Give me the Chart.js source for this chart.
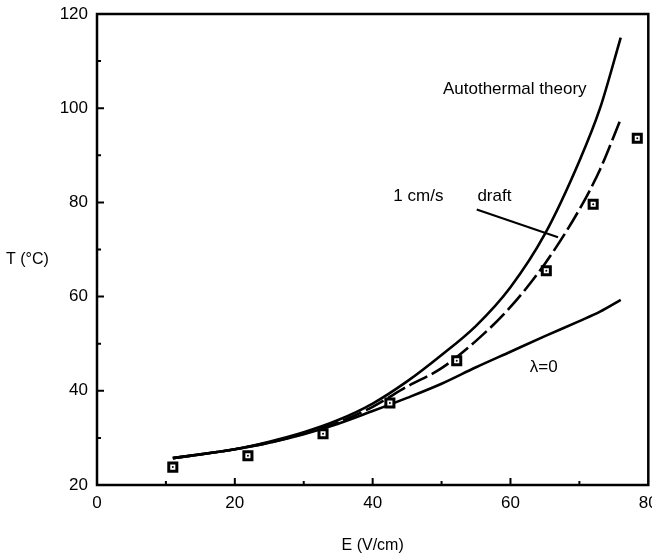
<!DOCTYPE html>
<html>
<head>
<meta charset="utf-8">
<script src="https://cdn.jsdelivr.net/npm/chart.js@4.4.1/dist/chart.umd.min.js"></script>
<style>
  html, body { margin: 0; padding: 0; background: #fff; overflow: hidden; }
  /* a bit wider than the window: the right tick label gets cut like in the scan */
  #wrap { width: 657px; height: 555px; }
</style>
</head>
<body>
<div id="wrap"><canvas id="myChart"></canvas></div>
<script>
// measured points (squares)
const pointsE = [11.0, 21.9, 32.8, 42.5, 52.2, 65.2, 72.0, 78.4];
const pointsT = [23.8, 26.2, 30.9, 37.4, 46.4, 65.5, 79.6, 93.6];

// model curves
const curveE = [11, 15, 20, 25, 30, 35, 40, 45, 50, 55, 60, 65, 70, 73, 76];
const autothermalT = [25.7, 26.5, 27.6, 29.2, 31.2, 33.8, 37.3, 42.0, 47.6, 53.8, 62.0, 73.3, 88.8, 100.0, 115.0];
const draftT = [25.7, 26.5, 27.6, 29.0, 30.9, 33.3, 36.6, 40.9, 44.8, 50.6, 57.8, 67.0, 78.5, 87.0, 97.7];
const lambda0T = [25.7, 26.5, 27.6, 29.0, 30.8, 33.0, 35.7, 38.5, 41.5, 45.0, 48.3, 51.6, 54.8, 56.8, 59.3];

// leader line for "1 cm/s draft"
const leaderE = [55.1, 66.9];
const leaderT = [78.5, 72.6];

const xTicks = [0, 20, 40, 60, 80];
const yTicks = [20, 40, 60, 80, 100, 120];

const FONT = 'Liberation Sans, Arial, sans-serif';

function xy(xs, ys) {
  return xs.map((x, i) => ({ x: x, y: ys[i] }));
}

// text labels placed in data units
const notes = [
  { text: 'Autothermal theory', x: 50.2, y: 104.0 },
  { text: '1 cm/s', x: 43.0, y: 81.2 },
  { text: 'draft', x: 55.2, y: 81.2 },
  { text: '\u03bb=0', x: 62.8, y: 45.0 }
];

const framePlugin = {
  id: 'frame',
  afterDraw(chart) {
    const ctx = chart.ctx;
    const a = chart.chartArea;
    const sx = chart.scales.x, sy = chart.scales.y;
    ctx.save();
    ctx.strokeStyle = '#000';
    ctx.lineWidth = 2.5;
    ctx.strokeRect(a.left, a.top, a.right - a.left, a.bottom - a.top);

    // inward ticks, major + minor
    ctx.lineWidth = 2;
    ctx.beginPath();
    for (let v = 10; v < 80; v += 10) {
      const px = sx.getPixelForValue(v);
      const len = v % 20 === 0 ? 7 : 4;
      ctx.moveTo(px, a.bottom);
      ctx.lineTo(px, a.bottom - len);
    }
    for (let v = 30; v < 120; v += 10) {
      const py = sy.getPixelForValue(v);
      const len = v % 20 === 0 ? 7 : 4;
      ctx.moveTo(a.left, py);
      ctx.lineTo(a.left + len, py);
    }
    ctx.stroke();

    // annotations
    ctx.fillStyle = '#000';
    ctx.font = '17px ' + FONT;
    ctx.textAlign = 'left';
    ctx.textBaseline = 'middle';
    notes.forEach(n => {
      ctx.fillText(n.text, sx.getPixelForValue(n.x), sy.getPixelForValue(n.y));
    });

    // y axis title, horizontal
    ctx.font = '16px ' + FONT;
    ctx.fillText('T (\u00b0C)', 6, 260);
    ctx.restore();
  }
};

const ctx = document.getElementById('myChart').getContext('2d');
const myChart = new Chart(ctx, {
  type: 'scatter',
  data: {
    datasets: [
      {
        label: 'dots',
        data: xy(pointsE, pointsT),
        pointStyle: 'circle',
        pointRadius: 1,
        backgroundColor: '#000',
        borderWidth: 0
      },
      {
        label: 'measured',
        data: xy(pointsE, pointsT),
        pointStyle: 'rect',
        pointRadius: 5.7,
        backgroundColor: '#fff',
        borderColor: '#000',
        borderWidth: 3
      },
      {
        label: 'Autothermal theory',
        data: xy(curveE, autothermalT),
        showLine: true,
        pointRadius: 0,
        borderColor: '#000',
        borderWidth: 2.6,
        cubicInterpolationMode: 'monotone'
      },
      {
        label: '1 cm/s draft',
        data: xy(curveE, draftT),
        showLine: true,
        pointRadius: 0,
        borderColor: '#000',
        borderWidth: 2.6,
        borderDash: [20, 5],
        cubicInterpolationMode: 'monotone'
      },
      {
        label: 'lambda=0',
        data: xy(curveE, lambda0T),
        showLine: true,
        pointRadius: 0,
        borderColor: '#000',
        borderWidth: 2.6,
        cubicInterpolationMode: 'monotone'
      },
      {
        label: 'leader',
        data: xy(leaderE, leaderT),
        showLine: true,
        pointRadius: 0,
        borderColor: '#000',
        borderWidth: 2
      }
    ]
  },
  options: {
    responsive: true,
    maintainAspectRatio: false,
    animation: false,
    layout: { padding: { top: 14, right: 0, left: 0, bottom: 0 } },
    plugins: {
      legend: { display: false },
      tooltip: { enabled: false }
    },
    scales: {
      x: {
        type: 'linear',
        min: 0,
        max: 80,
        afterBuildTicks: s => { s.ticks = xTicks.map(v => ({ value: v })); },
        afterFit: s => { s.height = 70; s.paddingRight = 0; s.paddingLeft = 0; },
        grid: { display: false, drawTicks: false },
        border: { display: false },
        ticks: { color: '#000', padding: 8, maxRotation: 0, font: { family: FONT, size: 17 } },
        title: { display: true, text: 'E (V/cm)', color: '#000', padding: 0, font: { family: FONT, size: 16 } }
      },
      y: {
        type: 'linear',
        min: 20,
        max: 120,
        afterBuildTicks: s => { s.ticks = yTicks.map(v => ({ value: v })); },
        afterFit: s => { s.width = 97; s.paddingTop = 0; s.paddingBottom = 0; },
        grid: { display: false, drawTicks: false },
        border: { display: false },
        ticks: { color: '#000', padding: 9, font: { family: FONT, size: 17 } }
      }
    }
  },
  plugins: [framePlugin]
});
</script>
</body>
</html>
